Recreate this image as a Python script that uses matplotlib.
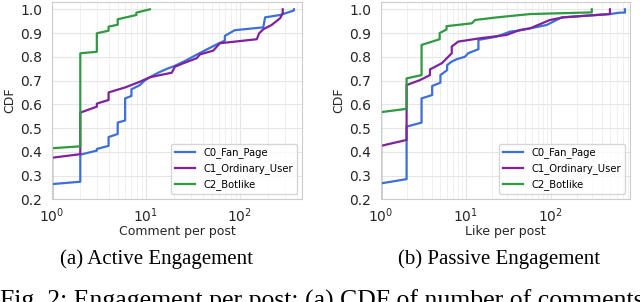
import matplotlib
matplotlib.use("Agg")
import matplotlib.pyplot as plt
from matplotlib.ticker import LogLocator, MultipleLocator, FormatStrFormatter, NullFormatter

plt.rcParams["font.family"] = ["DejaVu Sans"]
plt.rcParams["font.size"] = 9

# 数据: (a) comment per post
comment_x_c0 = [1, 1, 2, 2, 3, 3, 4, 4, 5, 5, 6, 6, 7, 7, 8.6, 9.7, 11, 13.5, 16.6, 20, 25,
                35, 52, 60, 69, 69, 88, 177, 185, 267, 375, 375]
comment_cdf_c0 = [0, 0.264, 0.274, 0.388, 0.405, 0.412, 0.425, 0.462, 0.475, 0.523, 0.532, 0.625,
                  0.635, 0.663, 0.681, 0.700, 0.714, 0.733, 0.749, 0.761, 0.779, 0.81, 0.845,
                  0.857, 0.868, 0.888, 0.912, 0.924, 0.966, 0.976, 0.995, 1.0]
comment_x_c1 = [1, 1, 2, 2, 3, 3, 4, 4, 6.1, 8.6, 11, 18.8, 20.3, 25, 34.6, 37.5, 52, 61,
                151, 160, 177, 217, 267, 285, 285]
comment_cdf_c1 = [0, 0.375, 0.39, 0.565, 0.59, 0.603, 0.618, 0.65, 0.672, 0.695, 0.714, 0.733,
                  0.758, 0.773, 0.794, 0.81, 0.826, 0.857, 0.874, 0.899, 0.916, 0.934, 0.962,
                  0.983, 1.0]
comment_x_c2 = [1, 1, 2, 2, 3, 3, 4, 4, 5, 5, 7.9, 7.9, 11]
comment_cdf_c2 = [0, 0.415, 0.423, 0.815, 0.821, 0.899, 0.91, 0.927, 0.935, 0.958, 0.976,
                  0.986, 1.0]

# 数据: (b) like per post
like_x_c0 = [1, 1, 2, 2, 3, 3, 4, 4, 5, 5, 6, 6, 6.8, 7.8, 9.7, 10.6, 14, 14, 23, 33, 43,
             89, 116, 133, 494, 650, 740, 740]
like_cdf_c0 = [0, 0.267, 0.285, 0.506, 0.523, 0.625, 0.639, 0.677, 0.691, 0.723, 0.744, 0.765,
               0.78, 0.79, 0.80, 0.815, 0.832, 0.871, 0.885, 0.906, 0.911, 0.934, 0.955, 0.966,
               0.98, 0.986, 0.986, 1.0]
like_x_c1 = [1, 1, 2, 2, 2.88, 3.77, 3.77, 5.2, 6.8, 6.8, 8.1, 14.6, 30, 43, 57, 97, 140,
             494, 494]
like_cdf_c1 = [0, 0.425, 0.45, 0.681, 0.702, 0.723, 0.747, 0.773, 0.815, 0.843, 0.864, 0.878,
               0.892, 0.913, 0.92, 0.955, 0.966, 0.98, 1.0]
like_x_c2 = [1, 1, 2, 2, 3, 3, 4.9, 4.9, 5.9, 5.9, 11.7, 12.8, 23, 57, 302, 302]
like_cdf_c2 = [0, 0.567, 0.581, 0.709, 0.723, 0.85, 0.874, 0.9, 0.915, 0.929, 0.941, 0.955,
               0.966, 0.98, 0.987, 1.0]

labels = ["C0_Fan_Page", "C1_Ordinary_User", "C2_Botlike"]
colors = ["#3d6fd9", "#7e22a0", "#2f9a40"]

fig = plt.figure(figsize=(6.4, 3.02), dpi=100)
ax1 = fig.add_axes([52 / 640, 1 - 199.3 / 302, 250 / 640, 197.6 / 302])
ax2 = fig.add_axes([381 / 640, 1 - 199.3 / 302, 249 / 640, 197.6 / 302])


def style(ax, xs, ys, xlabel, xmax):
    for x, y, lab, c in zip(xs, ys, labels, colors):
        ax.plot(x, y, color=c, lw=1.6, label=lab)
    ax.set_xscale("log")
    ax.set_xlim(1, xmax)
    ax.set_ylim(0.2, 1.032)
    ax.yaxis.set_major_locator(MultipleLocator(0.1))
    ax.yaxis.set_major_formatter(FormatStrFormatter("%.1f"))
    ax.xaxis.set_major_locator(LogLocator(base=10))
    ax.xaxis.set_minor_locator(LogLocator(base=10, subs=range(2, 10)))
    ax.xaxis.set_minor_formatter(NullFormatter())
    ax.grid(True, which="major", color="#e6e6e6", lw=0.8)
    ax.grid(True, which="minor", axis="x", color="#eeeeee", lw=0.6)
    ax.set_axisbelow(True)
    for s in ax.spines.values():
        s.set_color("#cccccc")
    ax.tick_params(which="both", length=0, labelsize=10, colors="#262626")
    ax.tick_params(axis="y", pad=7)
    ax.tick_params(axis="x", pad=5)
    ax.set_xlabel(xlabel, fontsize=9, color="#262626", labelpad=0)
    ax.set_ylabel("CDF", fontsize=9, color="#262626", labelpad=3)
    leg = ax.legend(loc="lower right", fontsize=7.2, frameon=True, fancybox=True)
    leg.get_frame().set_edgecolor("#cccccc")


style(ax1, [comment_x_c0, comment_x_c1, comment_x_c2],
      [comment_cdf_c0, comment_cdf_c1, comment_cdf_c2], "Comment per post", 457)
style(ax2, [like_x_c0, like_x_c1, like_x_c2],
      [like_cdf_c0, like_cdf_c1, like_cdf_c2], "Like per post", 850)

serif = ["Liberation Serif", "DejaVu Serif"]
fig.text(157 / 640, 1 - 259 / 302, "(a) Active Engagement", ha="center", va="center",
         family=serif, fontsize=15)
fig.text(499 / 640, 1 - 259 / 302, "(b) Passive Engagement", ha="center", va="center",
         family=serif, fontsize=15)
fig.text(0 / 640, 1 - 308 / 302, "Fig. 2: Engagement per post: (a) CDF of number of comments",
         ha="left", va="baseline", family=serif, fontsize=18.5)

fig.savefig("out.png", dpi=100)
